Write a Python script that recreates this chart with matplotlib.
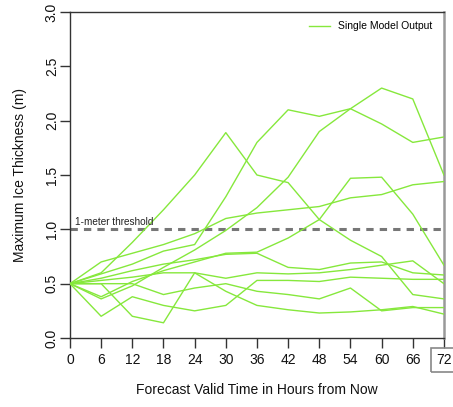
import matplotlib
matplotlib.use("Agg")
import matplotlib.pyplot as plt

plt.rcParams['font.family'] = ['Liberation Sans', 'DejaVu Sans']

# Forecast hours and per-member maximum ice thickness (m)
hours = [0, 6, 12, 18, 24, 30, 36, 42, 48, 54, 60, 66, 72]
tick_labels = [str(h) for h in hours]

member_a = [0.50, 0.60, 0.88, 1.18, 1.50, 1.89, 1.50, 1.43, 1.09, 0.90, 0.75, 0.40, 0.36]
member_b = [0.50, 0.59, 0.68, 0.80, 0.86, 1.30, 1.80, 2.10, 2.04, 2.11, 1.97, 1.80, 1.85]
member_c = [0.50, 0.70, 0.78, 0.86, 0.96, 1.10, 1.15, 1.18, 1.21, 1.29, 1.32, 1.41, 1.44]
member_d = [0.50, 0.36, 0.48, 0.65, 0.81, 0.99, 1.20, 1.48, 1.90, 2.11, 2.30, 2.20, 1.50]
member_e = [0.50, 0.38, 0.52, 0.62, 0.70, 0.78, 0.79, 0.92, 1.09, 1.47, 1.48, 1.14, 0.67]
member_f = [0.50, 0.55, 0.62, 0.68, 0.72, 0.77, 0.78, 0.65, 0.63, 0.69, 0.70, 0.60, 0.58]
member_g = [0.50, 0.53, 0.56, 0.60, 0.60, 0.55, 0.60, 0.59, 0.60, 0.63, 0.67, 0.71, 0.50]
member_h = [0.50, 0.20, 0.38, 0.30, 0.25, 0.30, 0.53, 0.53, 0.52, 0.56, 0.55, 0.54, 0.54]
member_i = [0.50, 0.50, 0.50, 0.40, 0.46, 0.50, 0.43, 0.40, 0.36, 0.46, 0.25, 0.28, 0.28]
member_j = [0.50, 0.50, 0.20, 0.14, 0.60, 0.43, 0.30, 0.26, 0.23, 0.24, 0.26, 0.29, 0.22]

members = [member_a, member_b, member_c, member_d, member_e,
           member_f, member_g, member_h, member_i, member_j]

threshold = 1.0
y_ticks = [0.0, 0.5, 1.0, 1.5, 2.0, 2.5, 3.0]

green = '#86e83c'

fig = plt.figure(figsize=(4.53, 4.07), dpi=100)
ax = fig.add_axes([0.1545, 0.1695, 0.8255, 0.801])

for k, vals in enumerate(members):
    ax.plot(hours, vals, color=green, lw=1.0,
            label='Single Model Output' if k == 0 else None, zorder=3)

ax.axhline(threshold, color='#777777', lw=2.2, ls=(0, (2.4, 2.0)), zorder=2)
ax.text(1.0, threshold + 0.02, '1-meter threshold', fontsize=7.2,
        color='#222222', va='bottom', ha='left')

ax.set_xlim(0, 72)
ax.set_ylim(0, 3.0)
ax.set_xticks(hours)
ax.set_xticklabels(tick_labels)
ax.set_yticks(y_ticks)
ax.set_yticklabels([f'{v:.1f}' for v in y_ticks], rotation=90, va='center')

ax.tick_params(axis='both', direction='out', length=7, width=1.0,
               color='#333333', labelsize=10, labelcolor='#111111')
ax.tick_params(axis='x', pad=4)
ax.tick_params(axis='y', pad=1)

for side in ['left', 'bottom', 'top']:
    ax.spines[side].set_color('#333333')
    ax.spines[side].set_linewidth(1.0)
ax.spines['right'].set_color('#999999')
ax.spines['right'].set_linewidth(1.8)

# box around the final forecast hour label
last = ax.get_xticklabels()[-1]
last.set_bbox(dict(boxstyle='square,pad=0.35', fc='none', ec='#888888', lw=1.2))

ax.set_xlabel('Forecast Valid Time in Hours from Now', fontsize=10,
              color='#111111', labelpad=11)
ax.set_ylabel('Maximum Ice Thickness (m)', fontsize=10, color='#111111',
              labelpad=13)

leg = ax.legend(loc='upper right', frameon=False, fontsize=7.5,
                handlelength=2.0, handletextpad=0.8, borderaxespad=0.5,
                bbox_to_anchor=(0.995, 1.0))

fig.savefig('out.png', dpi=100)
